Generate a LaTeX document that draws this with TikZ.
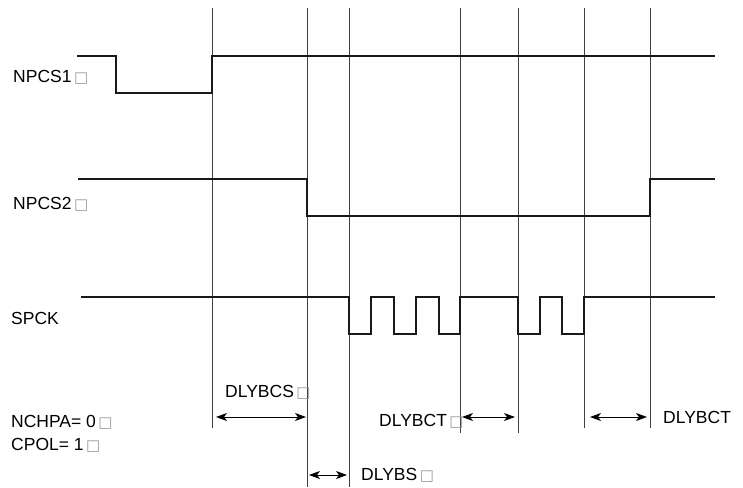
\documentclass[tikz,border=0pt]{standalone}
\usepackage{fontspec}
\setmainfont{Liberation Sans}
\newfontfamily\symfont{DejaVu Sans}
\usetikzlibrary{arrows.meta, positioning}
\newcommand{\nobox}{{\symfont\fontsize{15}{15}\selectfont\color{black!40}\,□}}
\tikzset{
	wave/.style   ={line width=2.2pt, black!90, line join=miter},
	tline/.style  ={line width=0.9pt, black!75},
	dimarrow/.style={{Stealth[length=11pt,width=8pt,inset=3pt]}-{Stealth[length=11pt,width=8pt,inset=3pt]}, line width=1pt},
	lbl/.style    ={anchor=base west, inner sep=0pt, font=\fontsize{17.5}{20}\selectfont},
}
\begin{document}
\begin{tikzpicture}[x=1pt, y=-1pt]
	\useasboundingbox (0,0) rectangle (743,487);
	% timing marks
	\foreach \n/\x in {a/212, b/307, c/349, d/460, e/518, f/584, g/650}
		\coordinate (\n) at (\x,8);
	\foreach \n/\y in {a/428, b/487, c/487, d/433, e/433, f/428, g/428}
		\draw[tline] (\n) -- (\n |- 0,\y);
	% signals
	\draw[wave] (77,56) -- (116,56) -- (116,93) -- (a |- 0,93) -- (a |- 0,56) -- (715,56);
	\draw[wave] (78,179) -- (b |- 0,179) -- (b |- 0,216) -- (g |- 0,216) -- (g |- 0,179) -- (715,179);
	\draw[wave] (81,297) -- (c |- 0,297) -- (c |- 0,334) -- (371,334) -- (371,297) -- (394,297)
		-- (394,334) -- (416,334) -- (416,297) -- (439,297) -- (439,334) -- (d |- 0,334) -- (d |- 0,297)
		-- (e |- 0,297) -- (e |- 0,334) -- (540,334) -- (540,297) -- (562,297) -- (562,334)
		-- (f |- 0,334) -- (f |- 0,297) -- (715,297);
	% labels
	\node[lbl] (npcs1) at (13,82) {NPCS1\nobox};
	\node[lbl] (npcs2) at (13,209) {NPCS2\nobox};
	\node[lbl] (spck) at (11,324) {SPCK};
	\node[lbl] (nchpa) at (11,427) {NCHPA= 0\nobox};
	\node[lbl] (cpol) at (11,450) {CPOL= 1\nobox};
	\node[lbl] (dlybcs) at (225,397) {DLYBCS\nobox};
	\node[lbl] (dlybct1) at (379,426) {DLYBCT\nobox};
	\node[lbl] (dlybs) at (361,480) {DLYBS\nobox};
	\node[lbl] (dlybct2) at (663,423) {DLYBCT};
	% delays
	\draw[dimarrow] ([xshift=4pt]a |- 0,417) -- ([xshift=-1pt]b |- 0,417);
	\draw[dimarrow] ([xshift=2pt]d |- 0,417) -- ([xshift=-3pt]e |- 0,417);
	\draw[dimarrow] ([xshift=2pt]b |- 0,475) -- ([xshift=-2pt]c |- 0,475);
	\draw[dimarrow] ([xshift=6pt]f |- 0,417) -- ([xshift=-3pt]g |- 0,417);
\end{tikzpicture}
\end{document}
